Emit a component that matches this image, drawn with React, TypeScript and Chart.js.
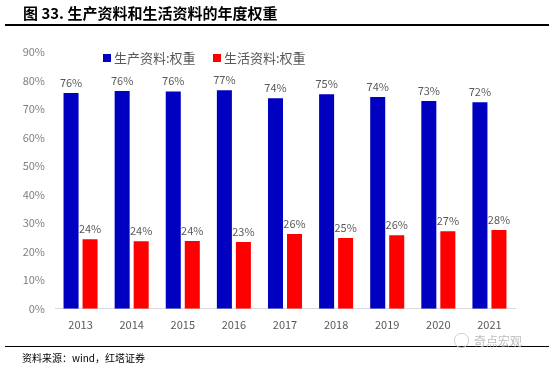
import React, { useEffect, useRef } from "react";
import { Chart, registerables } from "chart.js";

Chart.register(...registerables);

const years = ["2013", "2014", "2015", "2016", "2017", "2018", "2019", "2020", "2021"];
const productionWeight = [75.6, 76.3, 76.2, 76.6, 73.8, 75.2, 74.2, 72.8, 72.4];
const livingWeight = [24.4, 23.7, 23.8, 23.4, 26.2, 24.8, 25.8, 27.2, 27.6];
const seriesNames = ["生产资料:权重", "生活资料:权重"];
const seriesColors = ["#0000C0", "#FF0000"];

const FONT = '"Noto Sans CJK SC", "Noto Sans", sans-serif';

const labelPlugin = {
  id: "barLabels",
  afterDatasetsDraw(chart: any) {
    const ctx = chart.ctx;
    ctx.save();
    ctx.font = `11px ${FONT}`;
    ctx.fillStyle = "#595959";
    ctx.textAlign = "center";
    ctx.textBaseline = "bottom";
    chart.data.datasets.forEach((ds: any, i: number) => {
      const meta = chart.getDatasetMeta(i);
      meta.data.forEach((bar: any, j: number) => {
        ctx.fillText(Math.round(ds.data[j]) + "%", bar.x, bar.y - 5);
      });
    });
    ctx.restore();
  },
};

const legendPlugin = {
  id: "innerLegend",
  afterDraw(chart: any) {
    const ctx = chart.ctx;
    ctx.save();
    ctx.font = `13px ${FONT}`;
    ctx.textBaseline = "middle";
    ctx.textAlign = "left";
    const y = 58;
    let x = 103;
    seriesNames.forEach((name, i) => {
      ctx.fillStyle = seriesColors[i];
      ctx.fillRect(x, y - 4, 8, 8);
      ctx.fillStyle = "#595959";
      ctx.fillText(name, x + 11, y);
      x += 110;
    });
    ctx.restore();
  },
};

export default function App() {
  const ref = useRef<HTMLCanvasElement>(null);
  useEffect(() => {
    if (!ref.current) return;
    const chart = new Chart(ref.current, {
      type: "bar",
      data: {
        labels: years,
        datasets: [
          {
            label: seriesNames[0],
            data: productionWeight,
            backgroundColor: seriesColors[0],
            categoryPercentage: 0.744,
            barPercentage: 0.79,
          },
          {
            label: seriesNames[1],
            data: livingWeight,
            backgroundColor: seriesColors[1],
            categoryPercentage: 0.744,
            barPercentage: 0.79,
          },
        ],
      },
      options: {
        animation: false,
        responsive: false,
        maintainAspectRatio: false,
        layout: { padding: { left: 0, right: 39, top: 52, bottom: 28 } },
        plugins: {
          legend: { display: false },
          tooltip: { enabled: false },
          title: { display: false },
        },
        scales: {
          x: {
            grid: { display: false, drawTicks: false },
            border: { display: true, color: "#D9D9D9", width: 1 },
            ticks: {
              color: "#595959",
              font: { size: 11, family: FONT },
              padding: 9,
            },
          },
          y: {
            min: 0,
            max: 90,
            grid: { display: false, drawTicks: false },
            border: { display: false },
            afterFit: (scale: any) => {
              scale.width = 55;
            },
            ticks: {
              stepSize: 10,
              color: "#7F7F7F",
              font: { size: 11, family: FONT },
              padding: 10,
              callback: (v: any) => v + "%",
            },
          },
        },
      },
      plugins: [labelPlugin, legendPlugin],
    });
    return () => chart.destroy();
  }, []);

  return (
    <div
      style={{
        position: "absolute",
        left: 0,
        top: 0,
        width: 554,
        height: 368,
        background: "#fff",
        overflow: "hidden",
        fontFamily: FONT,
      }}
    >
      <canvas
        ref={ref}
        width={554}
        height={368}
        style={{ position: "absolute", left: 0, top: 0, width: 554, height: 368 }}
      />
      <div
        style={{
          position: "absolute",
          left: 23,
          top: 3,
          fontSize: 15,
          fontWeight: "bold",
          color: "#000",
          whiteSpace: "nowrap",
          lineHeight: "20px",
        }}
      >
        图 33. 生产资料和生活资料的年度权重
      </div>
      <div
        style={{
          position: "absolute",
          left: 5,
          top: 24,
          width: 544,
          height: 2,
          background: "#000",
        }}
      />
      <div
        style={{
          position: "absolute",
          left: 5,
          top: 346,
          width: 544,
          height: 1,
          background: "#000",
        }}
      />
      <div
        style={{
          position: "absolute",
          left: 22,
          top: 351,
          fontSize: 10,
          color: "#000",
          whiteSpace: "nowrap",
          lineHeight: "14px",
        }}
      >
        资料来源：wind，红塔证券
      </div>
      <div
        style={{
          position: "absolute",
          left: 454,
          top: 333,
          fontSize: 12,
          color: "#BDBDBD",
          whiteSpace: "nowrap",
          lineHeight: "15px",
          display: "flex",
          alignItems: "center",
        }}
      >
        <span
          style={{
            display: "inline-block",
            width: 13,
            height: 13,
            borderRadius: 7,
            border: "1px solid #D0D0D0",
            marginRight: 5,
          }}
        />
        奇点宏观
      </div>
    </div>
  );
}
